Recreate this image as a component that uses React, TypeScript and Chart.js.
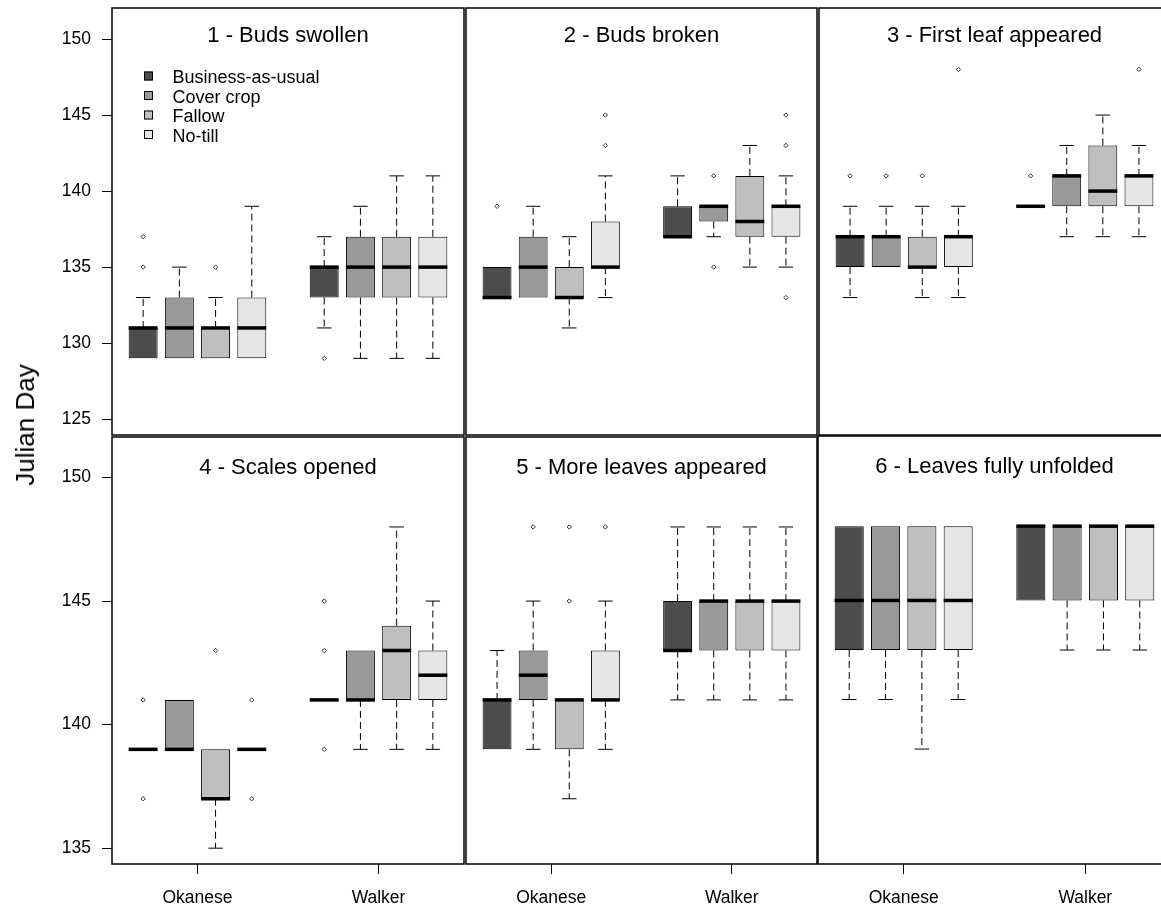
import { useEffect, useRef } from "react";
import { Chart, registerables } from "chart.js";

Chart.register(...registerables);

// ---------- data ----------
const panelTitles = [
  "1 - Buds swollen",
  "2 - Buds broken",
  "3 - First leaf appeared",
  "4 - Scales opened",
  "5 - More leaves appeared",
  "6 - Leaves fully unfolded",
];
const sites = ["Okanese", "Walker"];
const siteTickPositions = [2.5, 7.5];
const treatments = ["Business-as-usual", "Cover crop", "Fallow", "No-till"];
const treatmentColors = ["#4D4D4D", "#999999", "#BFBFBF", "#E5E5E5"];
// box order: Okanese BAU, CC, F, NT, Walker BAU, CC, F, NT
const boxX = [1, 2, 3, 4, 6, 7, 8, 9];
const yTicksTop = [125, 130, 135, 140, 145, 150];
const yTicksBottom = [135, 140, 145, 150];
const yLimTop = [125, 151];
const yLimBottom = [135, 151];
const xLim = [0.5, 9.5];

const lowerWhisker = [
  [129, 129, 129, 129, 131, 129, 129, 129],
  [133, 133, 131, 133, 137, 137, 135, 135],
  [133, 135, 133, 133, 139, 137, 137, 137],
  [139, 139, 135, 139, 141, 139, 139, 139],
  [139, 139, 137, 139, 141, 141, 141, 141],
  [141, 141, 139, 141, 145, 143, 143, 143],
];
const q1 = [
  [129, 129, 129, 129, 133, 133, 133, 133],
  [133, 133, 133, 135, 137, 138, 137, 137],
  [135, 135, 135, 135, 139, 139, 139, 139],
  [139, 139, 137, 139, 141, 141, 141, 141],
  [139, 141, 139, 141, 143, 143, 143, 143],
  [143, 143, 143, 143, 145, 145, 145, 145],
];
const median = [
  [131, 131, 131, 131, 135, 135, 135, 135],
  [133, 135, 133, 135, 137, 139, 138, 139],
  [137, 137, 135, 137, 139, 141, 140, 141],
  [139, 139, 137, 139, 141, 141, 143, 142],
  [141, 142, 141, 141, 143, 145, 145, 145],
  [145, 145, 145, 145, 148, 148, 148, 148],
];
const q3 = [
  [131, 133, 131, 133, 135, 137, 137, 137],
  [135, 137, 135, 138, 139, 139, 141, 139],
  [137, 137, 137, 137, 139, 141, 143, 141],
  [139, 141, 139, 139, 141, 143, 144, 143],
  [141, 143, 141, 143, 145, 145, 145, 145],
  [148, 148, 148, 148, 148, 148, 148, 148],
];
const upperWhisker = [
  [133, 135, 133, 139, 137, 139, 141, 141],
  [135, 139, 137, 141, 141, 139, 143, 141],
  [139, 139, 139, 139, 139, 143, 145, 143],
  [139, 141, 139, 139, 141, 143, 148, 145],
  [143, 145, 141, 145, 148, 148, 148, 148],
  [148, 148, 148, 148, 148, 148, 148, 148],
];
const outliers: number[][][] = [
  [[135, 137], [], [135], [], [129], [], [], []],
  [[139], [], [], [143, 145], [], [141, 135], [], [143, 145, 133]],
  [[141], [141], [141], [148], [141], [], [], [148]],
  [[141, 137], [], [143], [141, 137], [145, 143, 139], [], [], []],
  [[], [148], [145, 148], [148], [], [], [], []],
  [[], [], [], [], [], [], [], []],
];

// ---------- layout ----------
const FONT = "'Liberation Sans', Arial, Helvetica, sans-serif";
const colLeft = [112, 465, 818];
const colW = 353;
const rowTop = [8, 436];
const rowH = 428;
const PAD = 4;
const Y_AXIS_W = 112;
const PAGE_W = 1161;
const PAGE_H = 909;

function geom(i: number) {
  const r = Math.floor(i / 3);
  const c = i % 3;
  const plotL = colLeft[c];
  const plotR = plotL + colW;
  const plotT = rowTop[r];
  const plotB = plotT + rowH;
  const left = c === 0 ? 0 : plotL - PAD;
  const top = r === 0 ? 0 : plotT - PAD;
  const right = plotR + PAD;
  const bottom = r === 1 ? PAGE_H : plotB + PAD;
  return {
    r,
    c,
    left,
    top,
    w: right - left,
    h: bottom - top,
    padding: {
      left: c === 0 ? 0 : PAD,
      right: PAD,
      top: plotT - top,
      bottom: r === 1 ? 0 : PAD,
    },
    xAxisH: bottom - plotB,
  };
}

const decorPlugin = {
  id: "boxDecor",
  afterDatasetsDraw(chart: any) {
    const ctx = chart.ctx;
    const ys = chart.scales.y;
    chart.data.datasets.forEach((ds: any, di: number) => {
      if (!ds.stats) return;
      const meta = chart.getDatasetMeta(di);
      meta.data.forEach((el: any, j: number) => {
        const st = ds.stats[j];
        const { x, width } = el.getProps(["x", "width"], true);
        const yq1 = ys.getPixelForValue(st.q1);
        const yq3 = ys.getPixelForValue(st.q3);
        const ylw = ys.getPixelForValue(st.lw);
        const yuw = ys.getPixelForValue(st.uw);
        const ymed = ys.getPixelForValue(st.med);
        const cap = width / 4;
        ctx.save();
        ctx.strokeStyle = "#000";
        ctx.lineWidth = 1;
        const whisker = (yFrom: number, yTo: number) => {
          ctx.setLineDash([7, 4]);
          ctx.beginPath();
          ctx.moveTo(x, yFrom);
          ctx.lineTo(x, yTo);
          ctx.stroke();
          ctx.setLineDash([]);
          ctx.beginPath();
          ctx.moveTo(x - cap, yTo);
          ctx.lineTo(x + cap, yTo);
          ctx.stroke();
        };
        if (st.uw > st.q3) whisker(yq3, yuw);
        if (st.lw < st.q1) whisker(yq1, ylw);
        ctx.lineWidth = 3.5;
        ctx.lineCap = "butt";
        ctx.beginPath();
        ctx.moveTo(x - width / 2, ymed);
        ctx.lineTo(x + width / 2, ymed);
        ctx.stroke();
        ctx.restore();
      });
    });
  },
  afterDraw(chart: any) {
    const ctx = chart.ctx;
    const a = chart.chartArea;
    const opts = chart.options.plugins.boxDecor;
    ctx.save();
    ctx.strokeStyle = "#000";
    ctx.lineWidth = 1.5;
    ctx.strokeRect(a.left, a.top, a.right - a.left, a.bottom - a.top);
    // panel title
    ctx.fillStyle = "#000";
    ctx.font = `22px ${FONT}`;
    ctx.textAlign = "center";
    ctx.textBaseline = "alphabetic";
    ctx.fillText(opts.title, (a.left + a.right) / 2, a.top + opts.titleOffset);
    // legend
    if (opts.legend) {
      ctx.font = `18px ${FONT}`;
      ctx.textAlign = "left";
      chart.data.datasets.forEach((ds: any, k: number) => {
        if (!ds.stats) return;
        const cy = a.top + 68 + k * 19.5;
        const sx = a.left + 32;
        ctx.fillStyle = ds.backgroundColor;
        ctx.fillRect(sx, cy - 4.5, 9, 9);
        ctx.strokeStyle = "#000";
        ctx.lineWidth = 1;
        ctx.strokeRect(sx + 0.5, cy - 4, 8, 8);
        ctx.fillStyle = "#000";
        ctx.fillText(ds.label, a.left + 60.5, cy + 7);
      });
    }
    ctx.restore();
  },
};

function noScalePadding(s: any) {
  s.paddingTop = 0;
  s.paddingBottom = 0;
  s.paddingLeft = 0;
  s.paddingRight = 0;
}

function buildConfig(p: number): any {
  const g = geom(p);
  const datasets: any[] = treatments.map((label, t) => {
    const idx = [t, 4 + t];
    return {
      type: "bar",
      label,
      backgroundColor: treatmentColors[t],
      borderColor: "#000",
      borderWidth: 1,
      borderSkipped: false,
      grouped: false,
      barPercentage: 0.8,
      categoryPercentage: 1,
      data: idx.map((k) => ({ x: boxX[k], y: [q1[p][k], q3[p][k]] })),
      stats: idx.map((k) => ({
        lw: lowerWhisker[p][k],
        q1: q1[p][k],
        med: median[p][k],
        q3: q3[p][k],
        uw: upperWhisker[p][k],
      })),
    };
  });
  const outPts: { x: number; y: number }[] = [];
  outliers[p].forEach((vals, k) => vals.forEach((v) => outPts.push({ x: boxX[k], y: v })));
  datasets.push({
    type: "scatter",
    label: "outliers",
    data: outPts,
    pointStyle: "rectRot",
    radius: 2.2,
    borderColor: "#333",
    borderWidth: 1,
    backgroundColor: "rgba(255,255,255,0)",
  });

  const ylim = g.r === 0 ? yLimTop : yLimBottom;
  const yext = (ylim[1] - ylim[0]) * 0.04;
  const xext = (xLim[1] - xLim[0]) * 0.04;
  const yTicks = g.r === 0 ? yTicksTop : yTicksBottom;
  const tickFont = { family: FONT, size: 17.5 };

  return {
    type: "bar",
    data: { datasets },
    options: {
      animation: false,
      responsive: false,
      events: [],
      layout: { padding: g.padding },
      plugins: {
        legend: { display: false },
        tooltip: { enabled: false },
        boxDecor: {
          title: panelTitles[p],
          titleOffset: g.r === 0 ? 34 : 37,
          legend: p === 0,
        },
      },
      scales: {
        x: {
          type: "linear",
          min: xLim[0] - xext,
          max: xLim[1] + xext,
          offset: false,
          display: g.r === 1,
          afterBuildTicks: (s: any) => {
            s.ticks = siteTickPositions.map((v) => ({ value: v }));
          },
          afterFit: (s: any) => {
            if (g.r === 1) s.height = g.xAxisH;
            noScalePadding(s);
          },
          ticks: {
            callback: (_v: any, i: number) => sites[i],
            font: tickFont,
            color: "#000",
            padding: 14,
            maxRotation: 0,
            autoSkip: false,
          },
          grid: {
            display: true,
            offset: false,
            drawOnChartArea: false,
            drawTicks: true,
            tickLength: 10,
            color: "#000",
            lineWidth: 1,
          },
          border: { display: false },
        },
        y: {
          type: "linear",
          min: ylim[0] - yext,
          max: ylim[1] + yext,
          display: g.c === 0,
          afterBuildTicks: (s: any) => {
            s.ticks = yTicks.map((v) => ({ value: v }));
          },
          afterFit: (s: any) => {
            if (g.c === 0) s.width = Y_AXIS_W;
            noScalePadding(s);
          },
          ticks: {
            callback: (v: any) => String(v),
            font: tickFont,
            color: "#000",
            padding: 11,
            autoSkip: false,
          },
          grid: {
            display: true,
            offset: false,
            drawOnChartArea: false,
            drawTicks: true,
            tickLength: 10,
            color: "#000",
            lineWidth: 1,
          },
          border: { display: false },
        },
      },
    },
    plugins: [decorPlugin],
  };
}

export default function App() {
  const refs = useRef<(HTMLCanvasElement | null)[]>([]);
  useEffect(() => {
    const charts = panelTitles.map((_, i) => new Chart(refs.current[i] as HTMLCanvasElement, buildConfig(i)));
    return () => charts.forEach((c) => c.destroy());
  }, []);
  return (
    <div
      style={{
        position: "fixed",
        left: 0,
        top: 0,
        width: PAGE_W,
        height: PAGE_H,
        overflow: "hidden",
        background: "#fff",
      }}
    >
      {panelTitles.map((_, i) => {
        const g = geom(i);
        return (
          <canvas
            key={i}
            ref={(el) => {
              refs.current[i] = el;
            }}
            width={g.w}
            height={g.h}
            style={{ position: "absolute", left: g.left, top: g.top, width: g.w, height: g.h }}
          />
        );
      })}
      <div
        style={{
          position: "absolute",
          left: 25,
          top: 425,
          transform: "translate(-50%, -50%) rotate(-90deg)",
          whiteSpace: "nowrap",
          fontFamily: FONT,
          fontSize: 26,
          color: "#000",
          lineHeight: 1,
        }}
      >
        Julian Day
      </div>
    </div>
  );
}
